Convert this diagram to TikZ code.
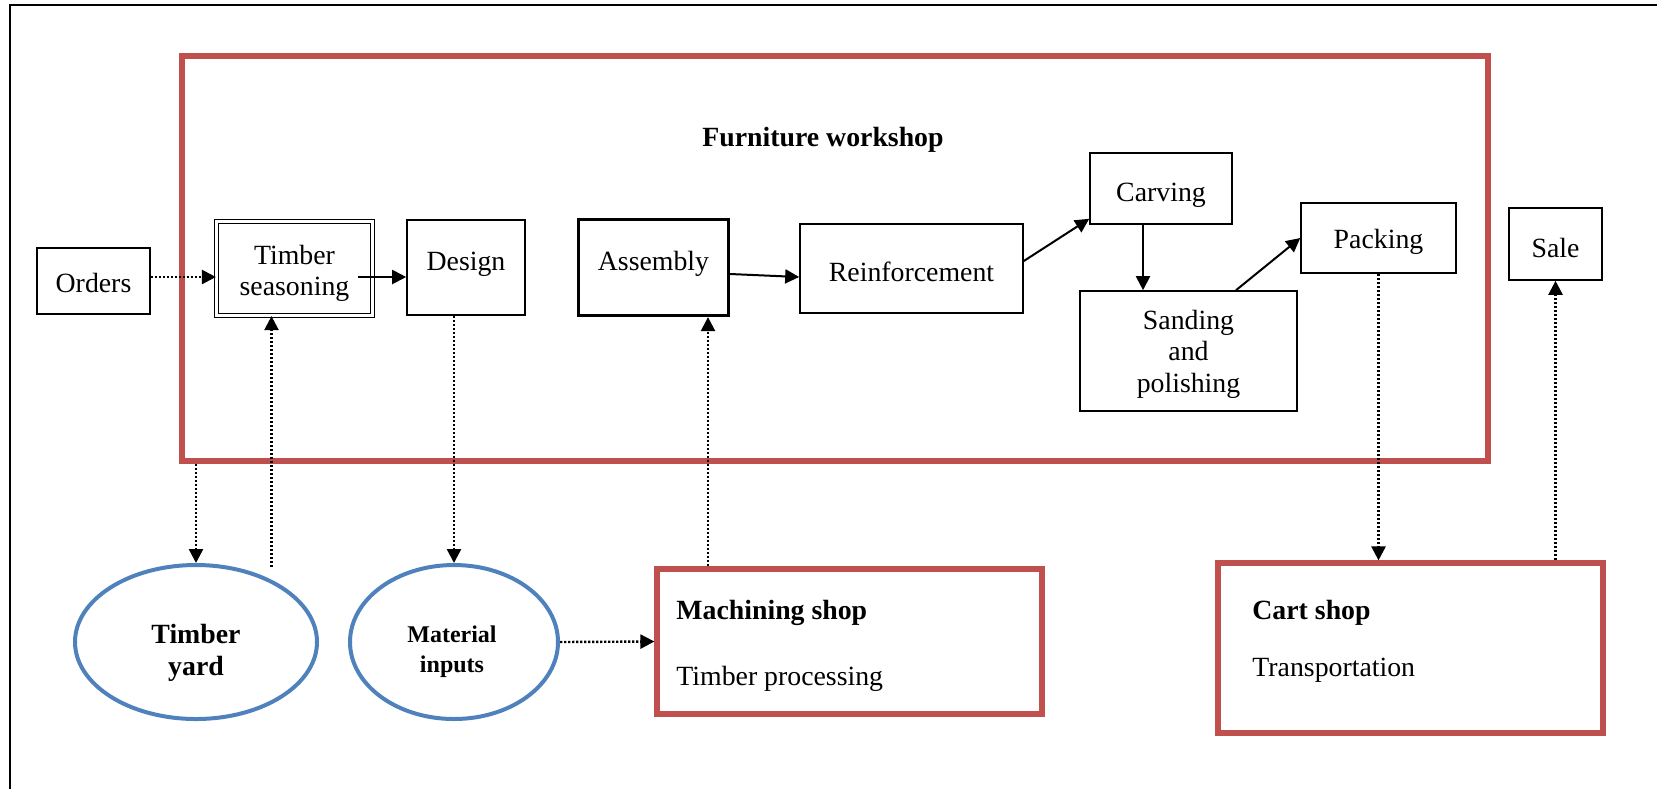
\documentclass[tikz,border=0pt]{standalone}
\usepackage{fontspec}
\setmainfont{Liberation Serif}
\usetikzlibrary{arrows.meta}
\usetikzlibrary{shapes.geometric}

\definecolor{shopred}{HTML}{C0504D}
\definecolor{storeblue}{HTML}{4F81BD}

\tikzset{
  stepbox/.style={draw, line width=0.8pt, align=center, inner sep=0pt,
    font=\fontsize{13.9}{15.8}\selectfont},
  shopbox/.style={draw=shopred, line width=2.6pt, inner sep=0pt},
  storeoval/.style={draw=storeblue, ellipse, line width=2pt, inner sep=0pt},
  storename/.style={align=center, inner sep=0pt},
  shoptext/.style={anchor=west, inner sep=0pt, font=\fontsize{13.9}{15.8}\selectfont},
  flow/.style={line width=1pt, -{Triangle[length=7pt,width=7pt]}},
  flowdot/.style={line width=1.2pt, dash pattern=on 1.2pt off 0.8pt,
    -{Triangle[length=7pt,width=7pt]}},
}

\begin{document}
\begin{tikzpicture}[x=0.5pt, y=-0.5pt]
    \useasboundingbox (0,0) rectangle (1657,789);
    \draw[line width=0.8pt] (10,789) -- (10,5) -- (1657,5);

    % the workshop and its steps
    \node[shopbox, minimum width=653pt, minimum height=202.5pt] (workshop) at (835,258.5) {};
    \node[font=\fontsize{13.9}{15.8}\selectfont\bfseries] (wstitle) at (823,140) {Furniture workshop};

    \node[stepbox, text height=11.3pt, text depth=0pt,
      minimum width=56.5pt, minimum height=33pt] (orders) at (93.5,281) {Orders};
    \node[stepbox, double, double distance=1.2pt, line width=0.6pt,
      minimum width=78pt, minimum height=47pt] (season) at (294.5,268.5)
      {\rule{0pt}{14.3pt}Timber\\seasoning};
    \node[stepbox, text height=6pt, text depth=3pt,
      minimum width=59pt, minimum height=47.5pt] (design) at (466,267.5) {Design};
    \node[stepbox, line width=1.6pt, text height=6pt, text depth=3pt,
      minimum width=75pt, minimum height=48pt] (assembly) at (653.5,267.5) {Assembly};
    \node[stepbox, text height=12.7pt, text depth=0pt,
      minimum width=111.5pt, minimum height=44.5pt] (reinf) at (911.5,268.5) {Reinforcement};
    \node[stepbox, text height=15.6pt, text depth=3pt,
      minimum width=71pt, minimum height=35.5pt] (carving) at (1161,188.5) {Carving};
    \node[stepbox, minimum width=108.5pt, minimum height=60pt] (sanding) at (1188.5,351)
      {\rule{0pt}{12.7pt}Sanding\\and\\polishing};
    \node[stepbox, text height=13.7pt, text depth=3pt,
      minimum width=77.5pt, minimum height=35pt] (packing) at (1378.5,238) {Packing};
    \node[stepbox, text height=13.7pt, text depth=0pt,
      minimum width=46.5pt, minimum height=36pt] (sale) at (1555.5,244) {Sale};

    % stores and shops below
    \node[storeoval, minimum width=121pt, minimum height=77pt] (yard) at (196,642) {};
    \node[storename, font=\fontsize{13.9}{16}\selectfont\bfseries] (yardname) at (196,653) {Timber\\yard};
    \node[storeoval, minimum width=104pt, minimum height=77pt] (inputs) at (454,642) {};
    \node[storename, font=\fontsize{12}{15}\selectfont\bfseries] (inputsname) at (452,652) {Material\\inputs};

    \node[shopbox, minimum width=192.5pt, minimum height=72.5pt] (machining) at (849.5,641.5) {};
    \node[shoptext, font=\fontsize{13.9}{15.8}\selectfont\bfseries] (machtitle) at (676,613) {Machining shop};
    \node[shoptext] (machwork) at (676,679) {Timber processing};

    \node[shopbox, minimum width=192.5pt, minimum height=85pt] (cart) at (1410.5,648) {};
    \node[shoptext, font=\fontsize{13.9}{15.8}\selectfont\bfseries] (carttitle) at (1252,613) {Cart shop};
    \node[shoptext] (cartwork) at (1252,670) {Transportation};

    % main flow
    \draw[flowdot] ([shift={(0,-4)}]orders.east) -- ([shift={(0,8.5)}]season.west);
    \draw[flow] ([shift={(-15,8.5)}]season.east) -- ([shift={(0,9.5)}]design.west);
    \draw[flow] ([shift={(0,6.5)}]assembly.east) -- ([shift={(0,8.5)}]reinf.west);
    \draw[flow] ([shift={(0,-7.5)}]reinf.east) -- ([shift={(0,-6)}]carving.south west);
    \draw[flow] (carving.south -| 1143,0) -- (sanding.north -| 1143,0);
    \draw[flow] ([shift={(47.5,0)}]sanding.north) -- (packing.west);

    % links to the shops
    \coordinate (yardout) at (271.5,567);
    \draw[flowdot] (yard.north |- workshop.south) -- (yard.north);
    \draw[flowdot] (yardout) -- (yardout |- season.south);
    \draw[flowdot] (inputs.north |- design.south) -- (inputs.north);
    \draw[flowdot] (inputs.east) -- (machining.west);
    \draw[flowdot] (machining.north -| 708,0) -- (assembly.south -| 708,0);
    \draw[flowdot] (packing.south) -- (packing.south |- cart.north);
    \draw[flowdot] (sale.south |- cart.north) -- (sale.south);
\end{tikzpicture}
\end{document}
